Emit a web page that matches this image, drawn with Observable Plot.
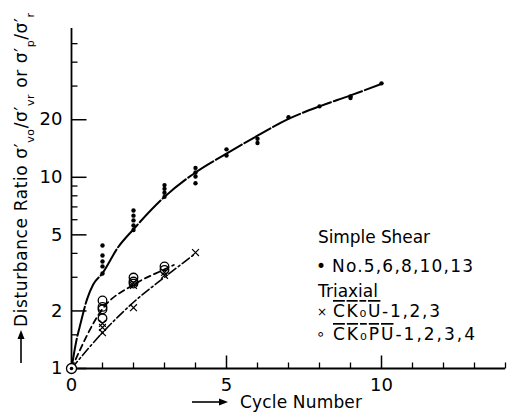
<!DOCTYPE html>
<html><head><meta charset="utf-8">
<script src="https://cdn.jsdelivr.net/npm/d3@7"></script>
<script src="https://cdn.jsdelivr.net/npm/@observablehq/plot@0.6"></script>
<style>body{margin:0;background:#fff} svg{display:block}</style>
</head><body><div id="chart"></div>
<script>
// ---- data ----
const shearCycle = [1,1,1,1,1, 2,2,2,2,2, 3,3,3,3, 4,4,4,4, 5,5, 6,6, 7, 8, 9,9, 10];
const shearRatio = [4.4,3.9,3.63,3.42,3.14, 6.7,6.3,5.95,5.6,5.3, 9.1,8.7,8.3,7.9, 11.2,10.6,10.1,9.3, 14.0,13.0, 15.9,15.1, 20.6, 23.5, 26.5,26.0, 31.0];
const shearFitCycle = [0, 0.15, 0.3, 0.5, 0.7, 1, 1.5, 2, 3, 4, 5, 6, 7, 8, 9, 10];
const shearFitRatio = [1, 1.38, 1.74, 2.3, 2.75, 3.15, 4.3, 5.35, 7.9, 10.6, 13.3, 16.5, 20.2, 23.5, 26.8, 30.8];

const ckouCycle = [1,1,1, 2,2,2, 3,3, 4];
const ckouRatio = [1.72,1.64,1.54, 2.72,2.8,2.08, 3.18,3.07, 4.04];
const ckouFitCycle = [0, 1, 2, 3, 4];
const ckouFitRatio = [1, 1.54, 2.22, 3.0, 4.0];

const ckopuCycle = [1,1,1,1, 2,2,2, 3,3];
const ckopuRatio = [2.27,2.1,2.04,1.83, 2.99,2.85,2.78, 3.42,3.28];
const ckopuFitCycle = [0, 1, 2, 3, 3.3];
const ckopuFitRatio = [1, 2.05, 2.74, 3.3, 3.48];

const origin = [{x: 0, y: 1}];

const yMajorTicks = [1, 2, 5, 10, 20];
const yMinorTicks = [1.5, 3, 4, 6, 7, 8, 9, 30, 40, 50];
const xMajorTicks = [5, 10];
const xMinorTicks = [1, 2, 3, 4, 6, 7, 8, 9, 11, 12, 13, 14];
const yTickLabels = [1, 2, 5, 10, 20];
const xTickLabels = [0, 5, 10];

// ---- helpers ----
const zip = (xs, ys) => xs.map((x, i) => ({x, y: ys[i]}));
const tickSym = (dx, dy) => ({draw(ctx) { ctx.moveTo(0, 0); ctx.lineTo(dx, dy); }});

const chart = Plot.plot({
  width: 513,
  height: 413,
  marginLeft: 71,
  marginRight: 8,
  marginTop: 28,
  marginBottom: 45,
  style: {fontFamily: "DejaVu Sans", fontSize: "18px", background: "white", color: "black"},
  x: {domain: [0, 14], axis: null},
  y: {type: "log", domain: [1, 60], axis: null},
  marks: [
    // axis lines
    Plot.ruleX([0], {y1: 1, y2: 60, stroke: "black", strokeWidth: 1.8}),
    Plot.ruleY([1], {x1: 0, x2: 14, stroke: "black", strokeWidth: 1.8}),
    // ticks (inward)
    Plot.dot(yMajorTicks, {x: 0, y: d => d, symbol: tickSym(15, 0), fill: "none", stroke: "black", strokeWidth: 1.5}),
    Plot.dot(yMinorTicks, {x: 0, y: d => d, symbol: tickSym(6, 0), fill: "none", stroke: "black", strokeWidth: 1.3}),
    Plot.dot(xMajorTicks, {x: d => d, y: 1, symbol: tickSym(0, -13), fill: "none", stroke: "black", strokeWidth: 1.5}),
    Plot.dot(xMinorTicks, {x: d => d, y: 1, symbol: tickSym(0, -6), fill: "none", stroke: "black", strokeWidth: 1.3}),
    // tick labels
    Plot.text(yTickLabels, {x: 0, y: d => d, text: d => String(d), dx: -9, textAnchor: "end", fontSize: 18}),
    Plot.text(xTickLabels, {x: d => d, y: 1, text: d => String(d), dy: 17, fontSize: 18}),
    // fitted curves
    Plot.line(zip(shearFitCycle, shearFitRatio), {x: "x", y: "y", curve: "monotone-x", stroke: "black", strokeWidth: 2, strokeDasharray: "30,3"}),
    Plot.line(zip(ckopuFitCycle, ckopuFitRatio), {x: "x", y: "y", curve: "monotone-x", stroke: "black", strokeWidth: 1.8, strokeDasharray: "6,4"}),
    Plot.line(zip(ckouFitCycle, ckouFitRatio), {x: "x", y: "y", curve: "monotone-x", stroke: "black", strokeWidth: 1.6, strokeDasharray: "9,3,2,3"}),
    // data points
    Plot.dot(zip(shearCycle, shearRatio), {x: "x", y: "y", r: 2.2, fill: "black", stroke: "none"}),
    Plot.dot(zip(ckopuCycle, ckopuRatio), {x: "x", y: "y", r: 4.3, fill: "none", stroke: "black", strokeWidth: 1.3}),
    Plot.dot(zip(ckouCycle, ckouRatio), {x: "x", y: "y", symbol: "times", r: 3.2, stroke: "black", strokeWidth: 1.2}),
    // origin marker
    Plot.dot(origin, {x: "x", y: "y", r: 5, fill: "white", stroke: "black", strokeWidth: 1.3}),
    Plot.dot(origin, {x: "x", y: "y", r: 1.8, fill: "black", stroke: "none"})
  ]
});
document.getElementById("chart").append(chart);

// ---- annotations ----
const svg = d3.select(chart);
const g = svg.append("g").attr("fill", "black").attr("text-anchor", "start").style("font-family", "DejaVu Sans");

// y label (rotated)
g.append("path").attr("d", "M21,363V336").attr("stroke", "black").attr("stroke-width", 1.6);
g.append("path").attr("d", "M21,330L17.5,339L24.5,339Z").attr("fill", "black");
const yl = g.append("text")
  .attr("transform", "translate(27,327) rotate(-90)")
  .attr("font-size", 17)
  .attr("textLength", 314)
  .attr("lengthAdjust", "spacing");
yl.append("tspan").text("Disturbance Ratio σ′");
yl.append("tspan").attr("baseline-shift", "sub").attr("font-size", 11).text("vo");
yl.append("tspan").text("/σ′");
yl.append("tspan").attr("baseline-shift", "sub").attr("font-size", 11).text("vr");
yl.append("tspan").text(" or σ′");
yl.append("tspan").attr("baseline-shift", "sub").attr("font-size", 11).text("p");
yl.append("tspan").text("/σ′");
yl.append("tspan").attr("baseline-shift", "sub").attr("font-size", 11).text("r");

// x label
g.append("path").attr("d", "M192,402H221").attr("stroke", "black").attr("stroke-width", 1.6);
g.append("path").attr("d", "M228,402L219,398.5L219,405.5Z").attr("fill", "black");
g.append("text").attr("x", 240).attr("y", 408).attr("font-size", 17)
  .attr("textLength", 122).attr("lengthAdjust", "spacing").text("Cycle Number");

// legend
g.append("text").attr("x", 318).attr("y", 243).attr("font-size", 17)
  .attr("textLength", 112).attr("lengthAdjust", "spacing").text("Simple Shear");
g.append("text").attr("x", 316).attr("y", 272).attr("font-size", 17).text("•");
g.append("text").attr("x", 332).attr("y", 272).attr("font-size", 17)
  .attr("textLength", 141).attr("lengthAdjust", "spacing").text("No.5,6,8,10,13");
g.append("text").attr("x", 318).attr("y", 297).attr("font-size", 17)
  .attr("textLength", 60).attr("lengthAdjust", "spacing").text("Triaxial");
g.append("text").attr("x", 317).attr("y", 316).attr("font-size", 12).text("×");
const t1 = g.append("text").attr("x", 333).attr("y", 317).attr("font-size", 17)
  .attr("textLength", 107).attr("lengthAdjust", "spacing");
t1.append("tspan").style("text-decoration", "overline").text("CK₀U");
t1.append("tspan").text("-1,2,3");
g.append("text").attr("x", 316).attr("y", 339).attr("font-size", 15).text("∘");
const t2 = g.append("text").attr("x", 333).attr("y", 340).attr("font-size", 17)
  .attr("textLength", 142).attr("lengthAdjust", "spacing");
t2.append("tspan").style("text-decoration", "overline").text("CK₀PU");
t2.append("tspan").text("-1,2,3,4");
</script></body></html>
